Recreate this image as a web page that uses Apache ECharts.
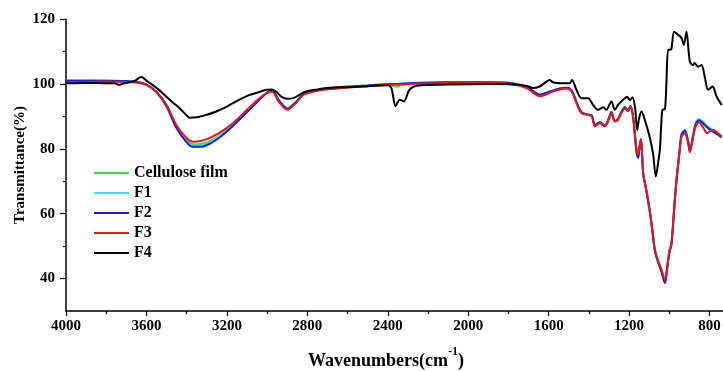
<!DOCTYPE html>
<html>
<head>
<meta charset="utf-8">
<script src="https://cdn.jsdelivr.net/npm/echarts@6/dist/echarts.min.js"></script>
<style>html,body{margin:0;padding:0;background:#fff;}#c{width:723px;height:371px;}</style>
</head>
<body>
<div id="c"></div>
<script>
// ---- data ----
const names = ['Cellulose film', 'F1', 'F2', 'F3', 'F4'];
const xTicks = [4000, 3600, 3200, 2800, 2400, 2000, 1600, 1200, 800];
const yTicks = [40, 60, 80, 100, 120];

const wnA = [4000, 3900, 3800, 3700, 3650, 3600, 3550, 3500, 3450, 3400,
  3370, 3330, 3290, 3240, 3170, 3100, 3040, 3000, 2975, 2940,
  2900, 2860, 2820, 2750, 2650, 2500, 2400, 2360, 2300, 2100,
  1900, 1780, 1710, 1670, 1645, 1610, 1580, 1545, 1510, 1485,
  1462, 1437, 1410, 1385, 1370, 1346, 1320, 1305, 1288, 1271,
  1255, 1238, 1221, 1205, 1193, 1180, 1163, 1155, 1147, 1141,
  1130, 1115, 1100, 1085, 1072, 1056, 1040, 1022, 1012, 1000,
  990, 980, 973, 963, 956, 948, 939, 923, 907, 898,
  884, 869, 852, 832, 812, 795, 782, 760, 740];

const cellulose = [100.8, 100.8, 100.8, 100.7, 100.5, 99.7, 97.5, 93.4, 86.9, 82.8,
  81.4, 81.5, 82.2, 84.0, 87.6, 91.8, 95.3, 97.3, 97.8, 94.5,
  92.2, 94.0, 96.7, 98.0, 98.7, 99.4, 99.8, 99.2, 100.1, 100.4,
  100.4, 100.1, 98.8, 97.2, 96.4, 97.0, 97.8, 98.5, 98.7, 97.8,
  94.3, 91.2, 90.6, 90.0, 87.0, 88.0, 87.0, 88.5, 91.1, 88.5,
  89.0, 91.2, 92.6, 91.7, 93.1, 89.8, 79.4, 77.9, 81.3, 83.0,
  72.5, 67.6, 62.1, 55.3, 48.9, 45.4, 42.8, 39.3, 42.8, 48.4,
  50.5, 58.1, 64.2, 71.4, 75.5, 80.2, 84.5, 85.7, 82.5, 79.5,
  83.5, 87.8, 89.2, 88.3, 87.0, 86.2, 85.5, 84.7, 83.9];

const f1 = [101.1, 101.1, 101.0, 100.9, 100.6, 99.8, 97.5, 93.2, 86.6, 82.4,
  81.0, 81.1, 81.8, 83.7, 87.3, 91.5, 95.2, 97.3, 97.9, 94.7,
  92.3, 94.1, 96.8, 98.1, 98.9, 99.5, 99.9, 100.0, 100.2, 100.5,
  100.5, 100.2, 98.9, 97.4, 96.6, 97.2, 97.9, 98.6, 98.8, 97.9,
  94.4, 91.3, 90.7, 90.2, 87.2, 88.2, 87.2, 88.7, 91.3, 88.6,
  89.2, 91.4, 92.8, 91.9, 93.2, 89.8, 79.3, 77.7, 81.3, 83.0,
  72.5, 67.5, 62.0, 55.2, 48.8, 45.3, 42.6, 39.0, 42.6, 48.3,
  50.4, 58.0, 64.2, 71.5, 75.6, 80.3, 84.6, 85.8, 82.6, 79.6,
  83.6, 87.8, 89.1, 88.1, 86.8, 86.0, 85.4, 84.6, 83.8];

const f2 = [101.0, 101.0, 101.0, 100.9, 100.6, 99.8, 97.5, 93.0, 86.3, 82.0,
  80.6, 80.6, 81.4, 83.3, 87.0, 91.3, 95.0, 97.3, 97.9, 94.8,
  92.4, 94.2, 96.8, 98.1, 98.9, 99.5, 99.9, 100.0, 100.2, 100.5,
  100.5, 100.2, 99.0, 97.5, 96.7, 97.3, 97.9, 98.6, 98.8, 97.9,
  94.5, 91.3, 90.6, 90.2, 87.2, 88.2, 87.2, 88.7, 91.3, 88.6,
  89.2, 91.4, 92.8, 91.9, 93.2, 89.6, 78.8, 77.2, 81.0, 82.8,
  72.3, 67.3, 61.8, 55.0, 48.5, 45.0, 42.3, 38.6, 42.3, 48.0,
  50.2, 57.8, 64.0, 71.2, 75.3, 80.0, 84.3, 85.6, 82.4, 79.3,
  83.3, 87.5, 88.8, 87.8, 86.6, 85.9, 85.3, 84.4, 83.5];

const f3 = [100.6, 100.6, 100.7, 100.6, 100.4, 99.6, 97.5, 93.5, 87.2, 83.3,
  82.2, 82.4, 83.2, 84.8, 87.9, 92.0, 95.5, 97.2, 97.6, 94.3,
  92.0, 93.9, 96.6, 97.9, 98.6, 99.3, 99.7, 99.8, 100.0, 100.3,
  100.3, 100.0, 98.7, 97.0, 96.2, 96.8, 97.6, 98.3, 98.6, 97.6,
  94.1, 91.0, 90.5, 89.9, 86.9, 87.9, 86.9, 88.4, 91.0, 88.4,
  88.9, 91.0, 92.5, 91.5, 93.0, 89.9, 79.7, 78.2, 81.0, 83.0,
  72.5, 67.5, 62.0, 55.5, 49.0, 45.5, 43.0, 39.5, 43.0, 48.5,
  50.5, 58.0, 64.0, 71.0, 75.0, 79.5, 83.8, 84.8, 81.8, 78.9,
  82.8, 86.9, 88.2, 86.6, 84.8, 85.6, 85.8, 84.9, 83.8];

const wnF4 = [4000, 3900, 3800, 3760, 3734, 3710, 3660, 3626, 3600, 3570,
  3535, 3502, 3470, 3435, 3400, 3386, 3350, 3300, 3253, 3200,
  3170, 3120, 3087, 3040, 3004, 2975, 2950, 2930, 2900, 2870,
  2840, 2810, 2750, 2690, 2600, 2500, 2400, 2382, 2361, 2341,
  2320, 2292, 2250, 2100, 1900, 1800, 1744, 1700, 1679, 1645,
  1611, 1595, 1578, 1545, 1495, 1484, 1462, 1437, 1404, 1379,
  1354, 1329, 1313, 1288, 1271, 1255, 1230, 1210, 1197, 1183,
  1170, 1160, 1150, 1138, 1122, 1097, 1081, 1067, 1055, 1047,
  1039, 1034, 1022, 1014, 1006, 995, 989, 976, 956, 939,
  928, 915, 898, 882, 875, 857, 840, 824, 807, 785,
  765, 740];

const f4 = [100.2, 100.3, 100.2, 100.2, 99.7, 100.2, 100.9, 102.1, 101.0, 99.7,
  98.0, 96.1, 94.3, 92.5, 90.3, 89.6, 89.7, 90.5, 91.5, 93.0,
  94.1, 95.7, 96.6, 97.5, 98.2, 98.3, 97.3, 96.1, 95.4, 95.6,
  96.6, 97.6, 98.3, 98.8, 99.0, 99.3, 99.6, 98.7, 93.2, 95.1,
  94.6, 98.2, 99.5, 99.8, 100.0, 99.9, 99.7, 99.2, 98.7, 99.2,
  100.7, 101.2, 100.5, 100.2, 100.2, 101.2, 98.2, 95.6, 95.6, 93.5,
  92.0, 92.8, 92.0, 94.6, 92.0, 93.5, 95.1, 96.0, 95.0, 95.9,
  92.5, 85.8, 89.5, 91.5, 88.9, 83.5, 78.5, 71.5, 76.0, 79.7,
  88.9, 92.0, 92.2, 101.2, 110.5, 110.5, 111.0, 116.1, 115.1, 114.1,
  112.0, 116.1, 106.9, 105.8, 106.4, 105.3, 105.8, 102.2, 98.2, 99.2,
  96.1, 93.5];

// ---- chart ----
const FONT = '"Liberation Serif", "Times New Roman", serif';
const colors = ['#2ee02e', '#33e6f2', '#1a1ad6', '#e8141c', '#000000'];
const pairs = (xs, ys) => xs.map((x, i) => [x, ys[i]]);
const seriesData = [pairs(wnA, cellulose), pairs(wnA, f1), pairs(wnA, f2), pairs(wnA, f3), pairs(wnF4, f4)];

const chart = echarts.init(document.getElementById('c'), null, {renderer: 'canvas'});
const warn = [];
[cellulose, f1, f2, f3].forEach((a, i) => { if (a.length !== wnA.length) warn.push(names[i] + ':' + a.length); });
if (f4.length !== wnF4.length) warn.push('F4:' + f4.length);

chart.setOption({
  animation: false,
  backgroundColor: '#fff',
  grid: {left: 66, top: 19, width: 724, height: 292, containLabel: false, outerBoundsMode: 'none'},
  xAxis: {
    type: 'value', min: 400, max: 4000, interval: 400, inverse: true,
    axisLine: {show: true, onZero: false, lineStyle: {color: '#000', width: 1.5}},
    axisTick: {show: true, length: 5, lineStyle: {color: '#000', width: 1.2}},
    minorTick: {show: true, splitNumber: 2, length: 3, lineStyle: {color: '#000', width: 1.2}},
    splitLine: {show: false}, minorSplitLine: {show: false},
    axisLabel: {margin: 8, color: '#000', fontFamily: FONT, fontWeight: 'bold', fontSize: 15,
      formatter: v => xTicks.indexOf(v) >= 0 ? String(v) : ''}
  },
  yAxis: [{
    type: 'value', min: 30, max: 120,
    axisLine: {show: true, onZero: false, lineStyle: {color: '#000', width: 1.5}},
    axisTick: {show: true, length: 6, customValues: yTicks, lineStyle: {color: '#000', width: 1.2}},
    splitLine: {show: false},
    axisLabel: {margin: 11, customValues: yTicks, color: '#000', fontFamily: FONT, fontWeight: 'bold', fontSize: 15}
  }, {
    type: 'value', min: 30, max: 120, position: 'left',
    axisLine: {show: false},
    axisTick: {show: true, length: 3, customValues: [50, 70, 90, 110], lineStyle: {color: '#000', width: 1.2}},
    splitLine: {show: false},
    axisLabel: {show: false}
  }],
  legend: {
    orient: 'vertical', left: 89, top: 160, itemWidth: 35, itemHeight: 2, itemGap: 4,
    icon: 'rect', data: names,
    textStyle: {fontFamily: FONT, fontWeight: 'bold', fontSize: 16, lineHeight: 16, color: '#000'}
  },
  series: names.map((n, i) => ({
    name: n, type: 'line', data: seriesData[i], yAxisIndex: 0,
    showSymbol: false, symbol: 'none', smooth: 0.3,
    color: colors[i],
    lineStyle: {width: 2, color: colors[i]},
    z: 2 + i
  })),
  graphic: [
    {type: 'text', x: 20, y: 165, rotation: Math.PI / 2,
      style: {text: 'Transmittance(%)', font: 'bold 15px ' + FONT, align: 'center', verticalAlign: 'middle', fill: '#000'}},
    {type: 'text', x: 386, y: 358,
      style: {text: '{a|Wavenumbers(cm}{s|-1}{a|)}', align: 'center', verticalAlign: 'middle',
        rich: {
          a: {fontFamily: FONT, fontWeight: 'bold', fontSize: 18, lineHeight: 24, verticalAlign: 'bottom', fill: '#000', color: '#000'},
          s: {fontFamily: FONT, fontWeight: 'bold', fontSize: 12, lineHeight: 24, verticalAlign: 'top', fill: '#000', color: '#000'}
        }}},
    {type: 'text', left: 300, top: 200, style: {text: warn.join(' '), fill: 'red', font: '12px sans-serif'}}
  ]
});
</script>
</body>
</html>
